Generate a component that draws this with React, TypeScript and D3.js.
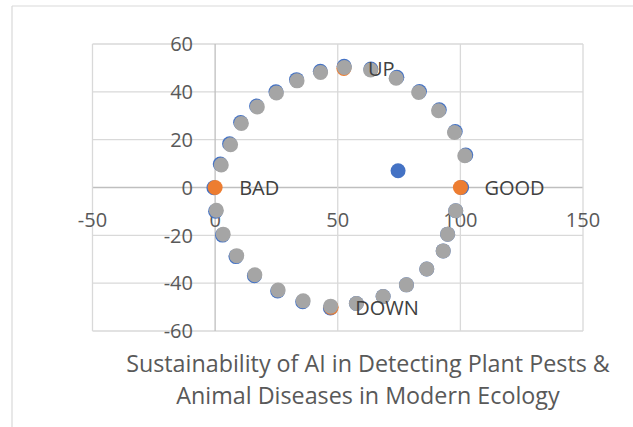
import React from "react";
import * as d3 from "d3";

const xTicks = [-50, 0, 50, 100, 150];
const yTicks = [-60, -40, -20, 0, 20, 40, 60];

// Series 1 (blue)
const blueX = [2.1, 5.9, 10.4, 16.9, 24.8, 33.2, 42.9, 52.6, 63.5, 74.1, 83.3, 91.4, 97.9, 102.2, 100.5, 98.1, 94.8, 93.0, 86.3, 78.0, 68.5, 57.6, 47.0, 35.7, 25.5, 16.0, 8.5, 3.0, 0.2, -0.5, 74.6];
const blueY = [9.8, 18.3, 27.2, 34.1, 40.0, 45.1, 48.6, 50.7, 49.5, 46.1, 40.1, 32.5, 23.4, 13.6, 0.0, -9.7, -19.5, -26.5, -34.1, -40.7, -45.6, -48.5, -50.4, -47.8, -43.3, -36.9, -28.9, -19.9, -9.9, -0.1, 7.0];

// Series 2 (orange, labelled)
const orangeLabels = ["BAD", "GOOD", "UP", "DOWN"];
const orangeX = [0, 100, 52.5, 47.3];
const orangeY = [0, 0, 49.8, -50.1];

// Series 3 (gray)
const grayX = [2.5, 6.3, 10.7, 17.2, 25.0, 33.4, 43.0, 52.7, 63.4, 73.8, 83.0, 91.1, 97.6, 101.8, 98.1, 94.8, 93.0, 86.3, 78.0, 68.5, 57.6, 47.1, 35.9, 25.7, 16.2, 8.8, 3.3, 0.5];
const grayY = [9.4, 17.9, 26.8, 33.7, 39.5, 44.6, 48.1, 50.2, 49.1, 45.7, 39.7, 32.1, 23.0, 13.3, -9.7, -19.5, -26.5, -34.1, -40.7, -45.6, -48.5, -49.6, -47.4, -42.9, -36.5, -28.5, -19.5, -9.5];

const titleLines = [
  "Sustainability of AI in Detecting Plant Pests &",
  "Animal Diseases in Modern Ecology",
];

const W = 633;
const H = 427;
const FONT = "'Open Sans', 'Noto Sans', sans-serif";
const TEXT = "#595959";

export default function App() {
  const x = d3.scaleLinear().domain([-50, 150]).range([92.5, 583]);
  const y = d3.scaleLinear().domain([-60, 60]).range([331, 44]);
  const r = 7.5;

  return (
    <svg
      width={W}
      height={H}
      style={{ position: "absolute", left: 0, top: 0, background: "#fff" }}
      fontFamily={FONT}
    >
      <rect x={0} y={0} width={W} height={H} fill="#fff" />
      {/* chart border */}
      <line x1={12} y1={6} x2={W} y2={6} stroke="#D9D9D9" strokeWidth={1.2} />
      <line x1={12} y1={6} x2={12} y2={H} stroke="#D9D9D9" strokeWidth={1.2} />

      {/* gridlines */}
      {yTicks.map((t) => (
        <line
          key={"gy" + t}
          x1={x(-50)}
          x2={x(150)}
          y1={y(t)}
          y2={y(t)}
          stroke={t === 0 ? "#BFBFBF" : "#D9D9D9"}
          strokeWidth={1.3}
        />
      ))}
      {xTicks.map((t) => (
        <line
          key={"gx" + t}
          x1={x(t)}
          x2={x(t)}
          y1={y(60)}
          y2={y(-60)}
          stroke={t === 0 ? "#BFBFBF" : "#D9D9D9"}
          strokeWidth={1.3}
        />
      ))}

      {/* y tick labels */}
      {yTicks.map((t) => (
        <text
          key={"ly" + t}
          x={193}
          y={y(t) + 7.3}
          textAnchor="end"
          fontSize={20}
          fill={TEXT}
        >
          {t}
        </text>
      ))}
      {/* x tick labels */}
      {xTicks.map((t) => (
        <text
          key={"lx" + t}
          x={x(t)}
          y={227}
          textAnchor="middle"
          fontSize={20}
          fill={TEXT}
        >
          {t}
        </text>
      ))}

      {/* series */}
      {blueX.map((v, i) => (
        <circle key={"b" + i} cx={x(v)} cy={y(blueY[i])} r={r} fill="#4472C4" />
      ))}
      {orangeX.map((v, i) => (
        <circle key={"o" + i} cx={x(v)} cy={y(orangeY[i])} r={r} fill="#ED7D31" />
      ))}
      {grayX.map((v, i) => (
        <circle key={"g" + i} cx={x(v)} cy={y(grayY[i])} r={r} fill="#A5A5A5" />
      ))}

      {/* data labels */}
      {orangeX.map((v, i) => (
        <text
          key={"dl" + i}
          x={x(v) + 24}
          y={y(orangeY[i]) + 7.3}
          fontSize={20}
          fill="#404040"
        >
          {orangeLabels[i]}
        </text>
      ))}

      {/* title */}
      {titleLines.map((s, i) => (
        <text
          key={"t" + i}
          x={368}
          y={371.5 + i * 32.5}
          textAnchor="middle"
          fontSize={23.3}
          fill={TEXT}
        >
          {s}
        </text>
      ))}
    </svg>
  );
}
